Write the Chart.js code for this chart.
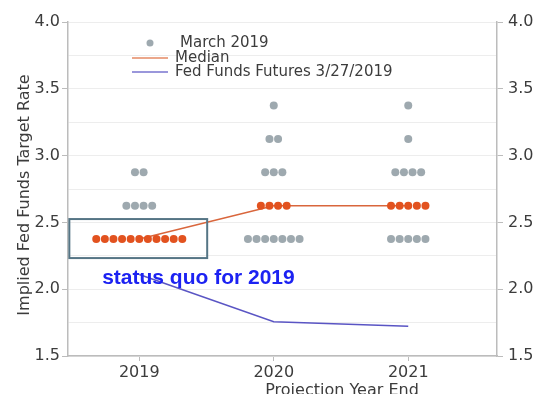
<!DOCTYPE html>
<html>
<head>
<meta charset="utf-8">
<script src="https://cdn.jsdelivr.net/npm/chart.js@4.4.1/dist/chart.umd.min.js"></script>
<style>
  html, body { margin: 0; padding: 0; background: #fff; }
  #wrap { width: 547px; height: 394px; }
</style>
</head>
<body>
<div id="wrap"><canvas id="dotPlot" width="547" height="394"></canvas></div>
<script>
'use strict';

// Projection years and the rate levels where dots sit
const years = [2019, 2020, 2021];
const rateLevels = [2.375, 2.625, 2.875, 3.125, 3.375];
// Number of participants at each rate level, one row per year
const dotCounts2019 = [11, 4, 2, 0, 0];
const dotCounts2020 = [7, 4, 3, 2, 1];
const dotCounts2021 = [5, 5, 4, 1, 1];
const medianRates = [2.375, 2.625, 2.625];
const futuresRates = [2.11, 1.757, 1.722];
const yTicks = [1.5, 2.0, 2.5, 3.0, 3.5, 4.0];

const dotCounts = [dotCounts2019, dotCounts2020, dotCounts2021];
const dotStep = 0.064; // horizontal gap between dots, in years

// Spread each row of dots around the year
const grayDots = [];
const medianDots = [];
years.forEach(function (year, i) {
  rateLevels.forEach(function (rate, j) {
    const n = dotCounts[i][j];
    for (let k = 0; k < n; k++) {
      const pt = { x: year + (k - (n - 1) / 2) * dotStep, y: rate };
      if (rate === medianRates[i]) medianDots.push(pt); else grayDots.push(pt);
    }
  });
});

const grayColor = '#9ea9af';
const orangeColor = '#e2521f';
const medianLine = '#d9663c';
const futuresLine = '#5a55c4';
const axisColor = '#bcbcbc';
const textColor = '#3c3c3c';

// Box and note in data units
const note = { x1: 2018.48, x2: 2019.505, y1: 2.525, y2: 2.233, tx: 2019.44, ty: 2.083 };

const overlay = {
  id: 'overlay',
  afterDatasetsDraw(chart) {
    const ctx = chart.ctx;
    const x = chart.scales.x, y = chart.scales.y;
    ctx.save();

    // status quo box
    ctx.strokeStyle = '#557585';
    ctx.lineWidth = 2;
    ctx.strokeRect(x.getPixelForValue(note.x1), y.getPixelForValue(note.y1),
      x.getPixelForValue(note.x2) - x.getPixelForValue(note.x1),
      y.getPixelForValue(note.y2) - y.getPixelForValue(note.y1));

    ctx.fillStyle = '#1c22f2';
    ctx.font = 'bold 21px "Liberation Sans", Arial, sans-serif';
    ctx.textAlign = 'center';
    ctx.textBaseline = 'middle';
    ctx.fillText('status quo for 2019', x.getPixelForValue(note.tx), y.getPixelForValue(note.ty));

    // legend
    ctx.textAlign = 'left';
    ctx.font = '15px "DejaVu Sans", sans-serif';
    ctx.fillStyle = grayColor;
    ctx.beginPath();
    ctx.arc(150, 43, 3.5, 0, Math.PI * 2);
    ctx.fill();
    ctx.fillStyle = textColor;
    ctx.fillText('March 2019', 180, 43);
    ctx.lineWidth = 1.5;
    ctx.strokeStyle = '#e58a64';
    ctx.beginPath(); ctx.moveTo(132, 58); ctx.lineTo(168, 58); ctx.stroke();
    ctx.fillText('Median', 175, 58);
    ctx.strokeStyle = '#7874cf';
    ctx.beginPath(); ctx.moveTo(132, 72); ctx.lineTo(168, 72); ctx.stroke();
    ctx.fillText('Fed Funds Futures 3/27/2019', 175, 72);

    // axis titles
    ctx.font = '16px "DejaVu Sans", sans-serif';
    ctx.textAlign = 'center';
    ctx.textBaseline = 'alphabetic';
    ctx.fillText('Projection Year End', 342, 395);

    ctx.translate(25, 195);
    ctx.rotate(-Math.PI / 2);
    ctx.textBaseline = 'middle';
    ctx.fillText('Implied Fed Funds Target Rate', 0, 0);
    ctx.restore();
  }
};

function rateTick(value) {
  return yTicks.includes(value) ? value.toFixed(1) : '';
}

new Chart(document.getElementById('dotPlot'), {
  type: 'scatter',
  data: {
    datasets: [
      {
        label: 'March 2019',
        data: grayDots,
        backgroundColor: grayColor,
        pointRadius: 4,
        pointBorderWidth: 0,
        order: 1
      },
      {
        label: 'Median dots',
        data: medianDots,
        backgroundColor: orangeColor,
        pointRadius: 4,
        pointBorderWidth: 0,
        order: 1
      },
      {
        label: 'Median',
        data: years.map((yr, i) => ({ x: yr, y: medianRates[i] })),
        showLine: true,
        borderColor: medianLine,
        borderWidth: 1.5,
        pointRadius: 0,
        order: 2
      },
      {
        label: 'Fed Funds Futures 3/27/2019',
        data: years.map((yr, i) => ({ x: yr, y: futuresRates[i] })),
        showLine: true,
        borderColor: futuresLine,
        borderWidth: 1.5,
        pointRadius: 0,
        order: 2
      }
    ]
  },
  options: {
    responsive: false,
    animation: false,
    layout: { padding: { top: 22, left: 0, right: 0, bottom: 0 } },
    plugins: { legend: { display: false }, tooltip: { enabled: false } },
    scales: {
      x: {
        type: 'linear',
        min: 2018.47,
        max: 2021.66,
        afterBuildTicks(scale) { scale.ticks = years.map(v => ({ value: v })); },
        afterFit(scale) { scale.height = 38; },
        ticks: {
          callback: v => String(v),
          color: textColor,
          font: { family: 'DejaVu Sans', size: 16 },
          padding: 2,
          maxRotation: 0
        },
        grid: { drawOnChartArea: false, tickLength: 5, tickColor: axisColor },
        border: { color: axisColor, width: 1.5 }
      },
      y: {
        position: 'left',
        min: 1.5,
        max: 4.0,
        afterFit(scale) { scale.width = 68; },
        ticks: {
          stepSize: 0.25,
          callback: rateTick,
          color: textColor,
          font: { family: 'DejaVu Sans', size: 16 },
          padding: 2
        },
        grid: {
          color: '#ededed',
          lineWidth: 1,
          tickLength: 6,
          tickColor: c => yTicks.includes(c.tick.value) ? axisColor : 'rgba(0,0,0,0)'
        },
        border: { color: axisColor, width: 1.5 }
      },
      y2: {
        position: 'right',
        min: 1.5,
        max: 4.0,
        afterFit(scale) { scale.width = 50; },
        ticks: {
          stepSize: 0.25,
          callback: rateTick,
          color: textColor,
          font: { family: 'DejaVu Sans', size: 16 },
          padding: 5
        },
        grid: {
          drawOnChartArea: false,
          tickLength: 6,
          tickColor: c => yTicks.includes(c.tick.value) ? axisColor : 'rgba(0,0,0,0)'
        },
        border: { color: axisColor, width: 1.5 }
      }
    }
  },
  plugins: [overlay]
});
</script>
</body>
</html>
